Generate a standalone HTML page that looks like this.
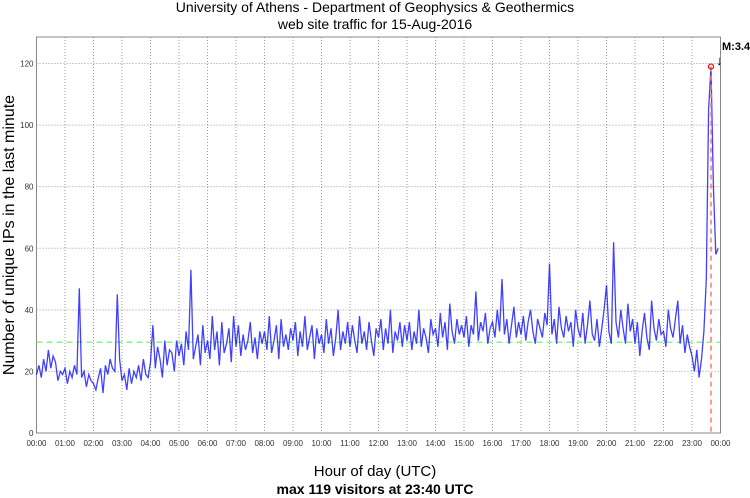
<!DOCTYPE html>
<html><head><meta charset="utf-8"><style>
body{margin:0;background:#fff;}
svg{display:block;font-family:"Liberation Sans",sans-serif;}
</style></head><body>
<svg id="chart" width="750" height="498">
<g id="grid"></g>
<g id="axes"></g>
<g id="plot"></g>
<text x="375" y="12" text-anchor="middle" font-size="14">University of Athens - Department of Geophysics &amp; Geothermics</text>
<text x="375" y="29" text-anchor="middle" font-size="14">web site traffic for 15-Aug-2016</text>
<text transform="translate(14,235) rotate(-90)" text-anchor="middle" font-size="16">Number of unique IPs in the last minute</text>
<text x="375" y="476" text-anchor="middle" font-size="15">Hour of day (UTC)</text>
<text x="375" y="494" text-anchor="middle" font-size="14" font-weight="bold">max 119 visitors at 23:40 UTC</text>
<text x="722" y="50" font-size="11" font-weight="bold">M:3.4</text>
<text x="716" y="65" font-size="13">↓</text>
</svg>
<script>
const values = [
19,22,18,24,20,27,21,25,23,17,20,19,
21,16,20,18,22,19,47,18,20,15,19,17,
16,14,18,21,13,22,19,24,21,20,45,24,
17,19,14,21,16,20,18,22,17,24,19,18,
23,35,21,28,24,18,30,22,27,26,20,30,
25,29,22,33,27,53,24,28,32,22,35,26,
30,24,38,27,33,22,36,26,29,34,23,38,
28,35,25,32,27,30,36,26,31,24,33,29,
33,27,38,26,30,35,24,37,28,32,27,34,
30,36,25,33,28,38,27,31,35,24,34,29,
32,26,37,29,34,25,31,40,27,33,29,36,
28,35,30,26,38,29,33,27,36,30,25,34,
31,37,27,34,29,40,26,33,30,36,28,35,
30,36,27,33,29,40,28,34,31,26,37,32,
34,28,39,31,36,27,42,33,29,37,32,35,
31,38,28,35,32,46,30,36,33,39,29,34,
36,31,40,33,50,32,37,29,35,41,31,36,
32,38,30,36,40,33,29,37,34,31,39,35,
55,32,37,29,41,34,31,38,33,36,28,40,
34,31,39,29,35,43,32,30,37,28,34,40,
48,33,29,62,36,31,40,34,29,42,33,37,
29,36,25,33,39,31,27,43,34,30,37,32,
33,28,40,34,31,37,43,29,35,26,32,28,
25,20,27,18,24,33,50,105,119,80,58,60
];
const stepMinutes = 5;
const meanValue = 29.5;
const maxValue = 119;
const maxMinute = 23*60+40;
const yTicks = [0,20,40,60,80,100,120];
const xTickLabels = ["00:00","01:00","02:00","03:00","04:00","05:00","06:00","07:00","08:00","09:00","10:00","11:00","12:00","13:00","14:00","15:00","16:00","17:00","18:00","19:00","20:00","21:00","22:00","23:00","00:00"];

const L=36.5,R=720.5,T=37,B=433;
const xs=m=>L+(R-L)*m/1440;
const ys=v=>B-(B-63.5)*v/120;
const NS="http://www.w3.org/2000/svg";
function mk(tag,attrs,parent){const e=document.createElementNS(NS,tag);for(const k in attrs)e.setAttribute(k,attrs[k]);parent.appendChild(e);return e;}
const grid=document.getElementById('grid'),axes=document.getElementById('axes'),plot=document.getElementById('plot');
mk('rect',{x:L,y:T,width:R-L,height:B-T,fill:'none',stroke:'#888','stroke-width':1},axes);
yTicks.forEach(v=>{
  const y=ys(v);
  if(v>0){const g=mk('line',{x1:L,x2:R,y1:y,y2:y,stroke:'#999','stroke-dasharray':'1,2','stroke-width':1},grid);
  
  }
  const t=mk('text',{x:L-3,y:y+3,'text-anchor':'end','font-size':8,fill:'#333'},axes);
  t.textContent=v;
  
  
});
xTickLabels.forEach((lab,i)=>{
  const x=xs(i*60);
  if(i>0&&i<24){const g=mk('line',{x1:x,x2:x,y1:T,y2:B,stroke:'#999','stroke-dasharray':'1,2','stroke-width':1},grid);
  
  }
  const t=mk('text',{x:x,y:B+13,'text-anchor':'middle','font-size':8,fill:'#333'},axes);
  t.textContent=lab;
  
  
});
const mean=mk('line',{x1:L,x2:R,y1:ys(meanValue),y2:ys(meanValue),stroke:'#66ee66','stroke-width':1.2,'stroke-dasharray':'6,4'},plot);


const pts=values.map((v,i)=>xs(i*stepMinutes).toFixed(1)+','+ys(v).toFixed(1)).join(' ');
const line=mk('polyline',{points:pts,fill:'none',stroke:'rgba(0,0,255,0.75)','stroke-width':1.3},plot);


const vl=mk('line',{x1:xs(maxMinute),x2:xs(maxMinute),y1:ys(maxValue),y2:B,stroke:'#ff7777','stroke-width':1.5,'stroke-dasharray':'5,4'},plot);


const c=mk('circle',{cx:xs(maxMinute),cy:ys(maxValue),r:2.5,fill:'none',stroke:'red','stroke-width':1.2},plot);


</script>
</body></html>
